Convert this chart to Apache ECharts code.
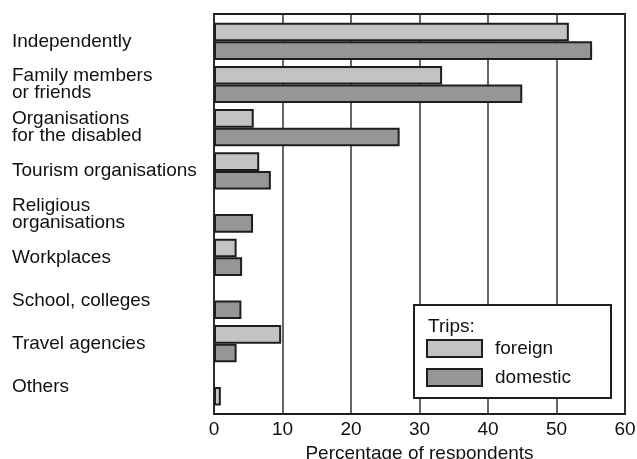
<!DOCTYPE html>
<html>
<head>
<meta charset="utf-8">
<script src="https://cdn.jsdelivr.net/npm/echarts@6/dist/echarts.min.js"></script>
<style>
  html, body { margin: 0; padding: 0; background: #fff; }
  #chart { width: 637px; height: 459px; }
</style>
</head>
<body>
<div id="chart"></div>
<script>
var categories = [
  "Independently",
  "Family members\nor friends",
  "Organisations\nfor the disabled",
  "Tourism organisations",
  "Religious\norganisations",
  "Workplaces",
  "School, colleges",
  "Travel agencies",
  "Others"
];
var foreign = [51.8, 33.3, 5.8, 6.6, 0, 3.3, 0, 9.8, 0];
var domestic = [55.2, 45, 27.1, 8.3, 5.7, 4.1, 4, 3.3, 1];
// the source draws the "Others" bar in the light shade, in the lower slot
var lightItems = ["Others"];
var xTicks = [0, 60, 10];

var FONT = "'Liberation Sans', Arial, sans-serif";
var LIGHT = "#c3c3c3";
var DARK = "#969696";
var EDGE = "#1e1e1e";

var chart = echarts.init(document.getElementById("chart"));

function toData(arr, isDomestic) {
  return arr.map(function (v, i) {
    if (v === 0) return null;
    if (isDomestic && lightItems.indexOf(categories[i]) >= 0) {
      return { value: v, itemStyle: { color: LIGHT } };
    }
    return v;
  });
}

var option = {
  animation: false,
  textStyle: { fontFamily: FONT },
  grid: [
    // frame + ticks
    { left: 214, top: 14, width: 411, height: 400, show: true, borderColor: EDGE, borderWidth: 2,
      containLabel: false, outerBoundsMode: "none" },
    // bars
    { left: 214, top: 19.7, width: 411, height: 388.8, containLabel: false, outerBoundsMode: "none" }
  ],
  xAxis: [
    {
      gridIndex: 0, type: "value", min: xTicks[0], max: xTicks[1], interval: xTicks[2],
      axisLine: { show: true, lineStyle: { color: EDGE, width: 2 } },
      axisTick: { show: false },
      splitLine: { show: true, lineStyle: { color: "#333", width: 1.5 } },
      axisLabel: { fontSize: 19, color: "#111", margin: 6, fontFamily: FONT },
      name: "Percentage of respondents",
      nameLocation: "middle",
      nameGap: 29,
      nameTextStyle: { fontSize: 19, color: "#111", fontFamily: FONT }
    },
    {
      gridIndex: 1, type: "value", min: xTicks[0], max: xTicks[1],
      show: false
    }
  ],
  yAxis: [
    { gridIndex: 0, type: "value", show: false },
    {
      gridIndex: 1, type: "category", data: categories, inverse: true,
      axisLine: { show: false },
      axisTick: { show: false },
      splitLine: { show: false },
      axisLabel: {
        align: "left", margin: 202, fontSize: 19, lineHeight: 17,
        color: "#111", fontFamily: FONT
      }
    }
  ],
  legend: {
    orient: "vertical",
    left: 426, top: 339,
    padding: 0,
    itemWidth: 55, itemHeight: 17, itemGap: 10,
    icon: "rect",
    z: 10,
    textStyle: { fontSize: 19, color: "#111", fontFamily: FONT, padding: [0, 0, 0, 8], lineHeight: 18 },
    data: ["foreign", "domestic"]
  },
  graphic: [
    {
      type: "rect", z: 5,
      shape: { x: 414, y: 305, width: 197, height: 93 },
      style: { fill: "#fff", stroke: EDGE, lineWidth: 2 }
    },
    {
      type: "text", z: 6, left: 428, top: 317,
      style: { text: "Trips:", fontSize: 19, fill: "#111", fontFamily: FONT }
    }
  ],
  series: [
    {
      name: "foreign", type: "bar", xAxisIndex: 1, yAxisIndex: 1,
      data: toData(foreign, false),
      barGap: "0%", barCategoryGap: "14%",
      itemStyle: { color: LIGHT, borderColor: EDGE, borderWidth: 2 }
    },
    {
      name: "domestic", type: "bar", xAxisIndex: 1, yAxisIndex: 1,
      data: toData(domestic, true),
      barGap: "0%", barCategoryGap: "14%",
      itemStyle: { color: DARK, borderColor: EDGE, borderWidth: 2 }
    }
  ]
};

chart.setOption(option);
</script>
</body>
</html>
